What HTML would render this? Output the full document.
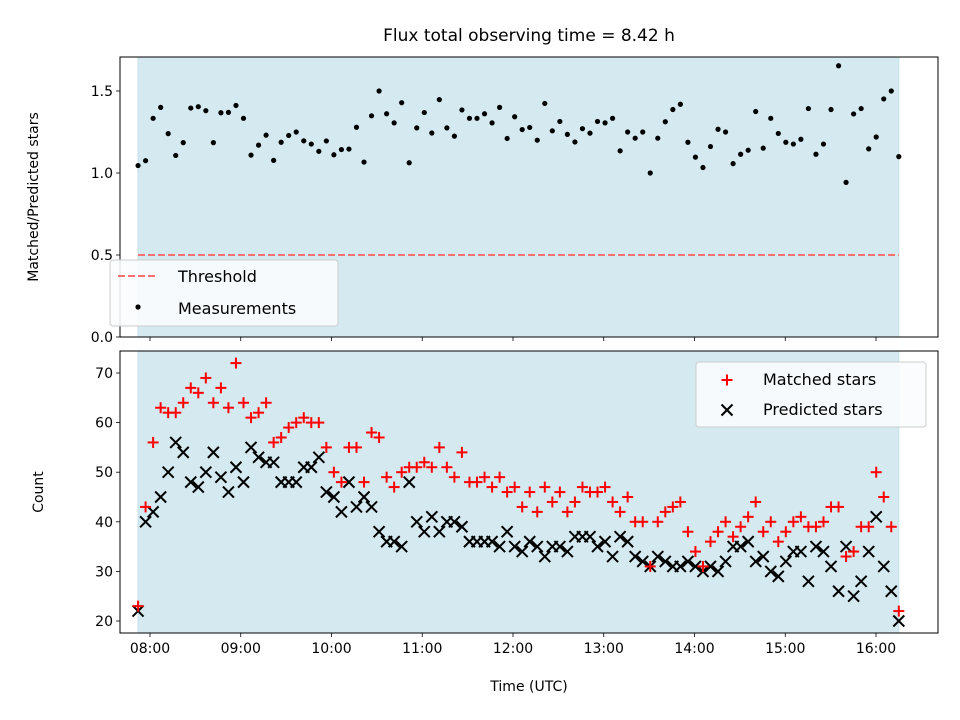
<!DOCTYPE html>
<html><head><meta charset="utf-8"><style>
body{margin:0;background:#fff}
svg{display:block;font-family:"DejaVu Sans","Liberation Sans",sans-serif}
</style></head><body>
<svg id="chart" width="960" height="720" viewBox="0 0 960 720" xmlns="http://www.w3.org/2000/svg">
<text x="529" y="41" font-size="17" text-anchor="middle" fill="#000">Flux total observing time = 8.42 h</text>
<text transform="translate(38,197) rotate(-90)" font-size="14" text-anchor="middle">Matched/Predicted stars</text>
<text transform="translate(43,492) rotate(-90)" font-size="14" text-anchor="middle">Count</text>
<text x="529" y="691" font-size="14" text-anchor="middle">Time (UTC)</text>
<g id="top"></g>
<g id="bot"></g>
</svg>
<script>
const startMinutes = 472.1;
const stepMinutes = 4.98;
const matched = [23,43,56,63,62,62,64,67,66,69,64,67,63,72,64,61,62,64,56,57,59,60,61,60,60,
55,50,48,55,55,48,58,57,49,47,50,51,51,52,51,55,51,49,54,48,48,49,47,49,46,47,
43,46,42,47,44,46,42,44,47,46,46,47,44,42,45,40,40,31,40,42,43,44,38,34,31,36,
38,40,37,39,41,44,38,40,36,38,40,41,39,39,40,43,43,33,34,39,39,50,45,39,22];
const predicted = [22,40,42,45,50,56,54,48,47,50,54,49,46,51,48,55,53,52,52,48,48,48,51,51,53,
46,45,42,48,43,45,43,38,36,36,35,48,40,38,41,38,40,40,39,36,36,36,36,35,38,35,
34,36,35,33,35,35,34,37,37,37,35,36,33,37,36,33,32,31,33,32,31,31,32,31,30,31,
30,32,35,35,36,32,33,30,29,32,34,34,28,35,34,31,26,35,25,28,34,41,31,26,20];
const xTickLabels = ["08:00","09:00","10:00","11:00","12:00","13:00","14:00","15:00","16:00"];
const xTickMinutes = [480,540,600,660,720,780,840,900,960];
const topTicks = [0.0,0.5,1.0,1.5];
const botTicks = [20,30,40,50,60,70];
const threshold = 0.5;

const NS="http://www.w3.org/2000/svg";
const L=120,R=938;
const X=m=>150+(m-480)*90.75/60;
const YT=v=>337-v*164;
const YB=v=>621-(v-20)*4.96;
function mk(tag,attrs,parent){const e=document.createElementNS(NS,tag);for(const k in attrs)e.setAttribute(k,attrs[k]);parent.appendChild(e);return e;}
const times=matched.map((_,i)=>startMinutes+i*stepMinutes);
const ratio=matched.map((m,i)=>m/predicted[i]);
const x0=X(times[0]),x1=X(times[times.length-1]);

function panel(g,top,bot,yfun,ticks,fmt,showX){
  let e=mk('rect',{x:L,y:top,width:R-L,height:bot-top,fill:'#fff'},g);
  e=mk('rect',{x:x0,y:top,width:x1-x0,height:bot-top,fill:'#d4eaf0',stroke:'#c2e0e8','stroke-width':1},g);
  
  
  ticks.forEach(t=>{const y=yfun(t);
    mk('line',{x1:L-4,x2:L,y1:y,y2:y,stroke:'#000','stroke-width':0.8},g);
    const tx=mk('text',{x:L-7,y:y+5,'font-size':14,'text-anchor':'end'},g);tx.textContent=fmt(t);
    
    
  });
  xTickMinutes.forEach((m,i)=>{const x=X(m);
    mk('line',{x1:x,x2:x,y1:bot,y2:bot+4,stroke:'#000','stroke-width':0.8},g);
    if(showX){const tx=mk('text',{x:x,y:bot+20,'font-size':14,'text-anchor':'middle'},g);tx.textContent=xTickLabels[i];
      
      }
  });
}
const gt=document.getElementById('top'),gb=document.getElementById('bot');
panel(gt,57,337,YT,topTicks,t=>t.toFixed(1),false);
let th=mk('line',{x1:x0,x2:x1,y1:YT(threshold),y2:YT(threshold),stroke:'#ff7070','stroke-width':2,'stroke-dasharray':'7,3'},gt);


ratio.forEach((r,i)=>{const c=mk('circle',{cx:X(times[i]),cy:YT(r),r:2.6,fill:'#000'},gt);
  
  });
mk('rect',{x:L,y:57,width:R-L,height:280,fill:'none',stroke:'#000','stroke-width':1},gt);
let lg=mk('g',{},gt);


mk('rect',{x:110,y:260,width:228,height:66,rx:3,fill:'#fafcfd','fill-opacity':0.9,stroke:'#ccc'},lg);
mk('line',{x1:118,x2:158,y1:276,y2:276,stroke:'#ff7070','stroke-width':2,'stroke-dasharray':'7,3'},lg);
let t=mk('text',{x:178,y:282,'font-size':16},lg);t.textContent='Threshold';
mk('circle',{cx:138,cy:307,r:2.6,fill:'#000'},lg);
t=mk('text',{x:178,y:314,'font-size':16},lg);t.textContent='Measurements';

panel(gb,351,633,YB,botTicks,t=>String(t),true);
function plus(x,y,p){const g=mk('g',{stroke:'#f00','stroke-width':2},p);mk('line',{x1:x-5.5,x2:x+5.5,y1:y,y2:y},g);mk('line',{x1:x,x2:x,y1:y-5.5,y2:y+5.5},g);return g;}
function cross(x,y,p){const g=mk('g',{stroke:'#000','stroke-width':2},p);mk('line',{x1:x-5.5,x2:x+5.5,y1:y-5.5,y2:y+5.5},g);mk('line',{x1:x-5.5,x2:x+5.5,y1:y+5.5,y2:y-5.5},g);return g;}
predicted.forEach((v,i)=>{const c=cross(X(times[i]),YB(v),gb);
  
  });
matched.forEach((v,i)=>{const c=plus(X(times[i]),YB(v),gb);
  
  });
mk('rect',{x:L,y:351,width:R-L,height:282,fill:'none',stroke:'#000','stroke-width':1},gb);
let lb=mk('g',{},gb);


mk('rect',{x:696,y:362,width:230,height:65,rx:3,fill:'#fafcfd','fill-opacity':0.9,stroke:'#ccc'},lb);
plus(727,380,lb);
t=mk('text',{x:763,y:385,'font-size':16},lb);t.textContent='Matched stars';
cross(727,410,lb);
t=mk('text',{x:763,y:415,'font-size':16},lb);t.textContent='Predicted stars';
</script>
</body></html>
